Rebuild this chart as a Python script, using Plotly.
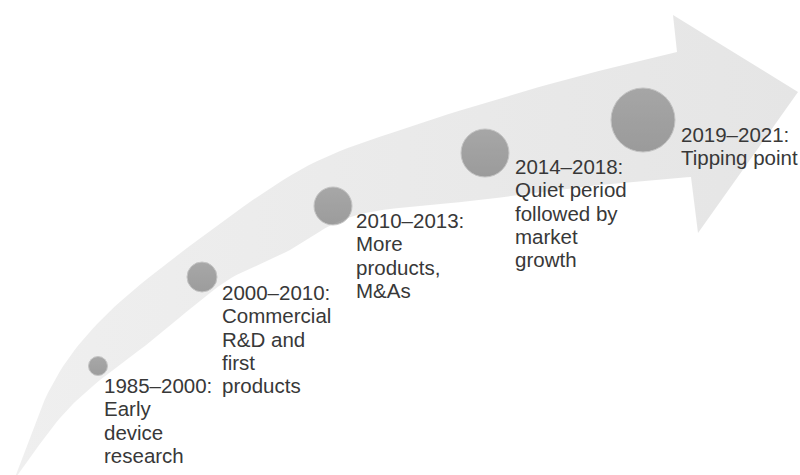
import plotly.graph_objects as go

# timeline stages (centre of each bubble in pixel space, bubble diameter)
periods = ["1985–2000:", "2000–2010:", "2010–2013:", "2014–2018:", "2019–2021:"]
descriptions = [
    ["Early", "device", "research"],
    ["Commercial", "R&D and", "first", "products"],
    ["More", "products,", "M&As"],
    ["Quiet period", "followed by", "market", "growth"],
    ["Tipping point"],
]
stage_x = [98, 202, 333, 485, 643]
stage_y = [366, 277, 206, 153, 120]
stage_size = [19, 30, 38, 48, 64]

# label placement: offset of first baseline from bubble centre
label_dx = [4, 18, 21, 28, 36]
label_dy = [27, 23, 22, 21, 22]
font_size = 20.5
line_gap = 23.3

# outline of the curved arrow (upper edge tail->head, lower edge tail->head)
upper_x = [14, 52, 103, 187, 300, 400, 550, 677]
upper_y = [480, 385, 318, 248, 170, 130, 84, 52]
lower_x = [14, 60, 100, 150, 225, 290, 357, 480, 600, 691]
lower_y = [480, 418, 380, 342, 282, 250, 215, 200, 185, 177]
head_x = [673, 798, 698]
head_y = [15, 92, 233]


def smooth(xs, ys, n=12):
    # catmull-rom through the outline points so the edges are not kinked
    px = [xs[0]] + list(xs) + [xs[-1]]
    py = [ys[0]] + list(ys) + [ys[-1]]
    out_x, out_y = [], []
    for i in range(1, len(px) - 2):
        for k in range(n):
            t = k / n
            t2, t3 = t * t, t * t * t
            for src, dst in ((px, out_x), (py, out_y)):
                p0, p1, p2, p3 = src[i - 1], src[i], src[i + 1], src[i + 2]
                dst.append(0.5 * (2 * p1 + (-p0 + p2) * t
                                  + (2 * p0 - 5 * p1 + 4 * p2 - p3) * t2
                                  + (-p0 + 3 * p1 - 3 * p2 + p3) * t3))
    out_x.append(xs[-1])
    out_y.append(ys[-1])
    return out_x, out_y


ux, uy = smooth(upper_x, upper_y)
lx, ly = smooth(lower_x, lower_y)
arrow_x = ux + head_x + lx[::-1]
arrow_y = uy + head_y + ly[::-1]

fig = go.Figure()

fig.add_trace(go.Scatter(
    x=arrow_x, y=arrow_y, mode="lines", fill="toself",
    line=dict(width=0, color="rgba(0,0,0,0)"),
    fillgradient=dict(type="horizontal",
                      colorscale=[[0, "#efefef"], [1, "#e5e5e5"]]),
    hoverinfo="skip", showlegend=False,
))

fig.add_trace(go.Scatter(
    x=stage_x, y=stage_y, mode="markers",
    marker=dict(size=stage_size, color="#8b8b8b",
                gradient=dict(type="vertical", color="#7b7b7b"),
                line=dict(width=1, color="#b4b4b4")),
    text=periods, hoverinfo="text", showlegend=False,
))

# one annotation per line: the source uses tighter leading than plotly's 1.3em
for p, d, cx, cy, dx, dy in zip(periods, descriptions, stage_x, stage_y, label_dx, label_dy):
    for i, line in enumerate([p] + d):
        baseline = cy + dy + i * line_gap
        fig.add_annotation(
            x=cx + dx, y=baseline - 0.98 * font_size - 1, xref="x", yref="y",
            text=line, showarrow=False,
            xanchor="left", yanchor="top", align="left",
            font=dict(family="Liberation Sans, Arial, sans-serif",
                      size=font_size, color="#383838"),
        )

fig.update_xaxes(range=[0, 800], visible=False, fixedrange=True)
fig.update_yaxes(range=[475, 0], visible=False, fixedrange=True)
fig.update_layout(
    width=800, height=475,
    margin=dict(l=0, r=0, t=0, b=0),
    plot_bgcolor="white", paper_bgcolor="white",
)

# page body has an 8px default margin; drop it so the figure fills the window
fig.write_html("out.html", post_script="document.body.style.margin='0';",
               config={"displayModeBar": False})
